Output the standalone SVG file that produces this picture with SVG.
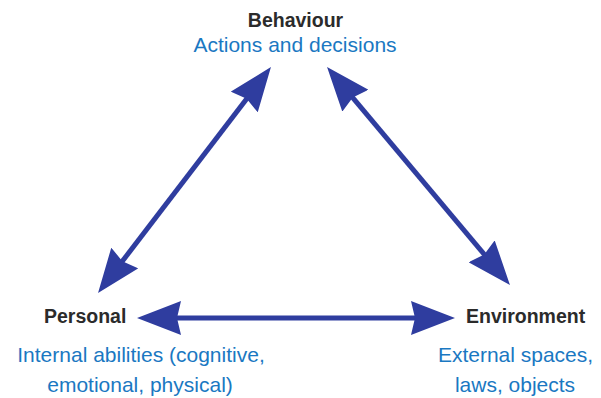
<svg xmlns="http://www.w3.org/2000/svg" width="601" height="398" viewBox="0 0 601 398">
  <style>
    .title { font-family: "Liberation Sans", Arial, sans-serif; font-weight: bold; font-size: 19.5px; fill: #2b2b2b; }
    .desc { font-family: "Liberation Sans", Arial, sans-serif; font-size: 21px; fill: #1a78c2; }
    .link { stroke: #2f3d9f; stroke-width: 5; fill: none; marker-start: url(#head); marker-end: url(#head); }
  </style>
  <defs>
    <marker id="head" markerUnits="userSpaceOnUse" viewBox="0 0 44 34" markerWidth="44" markerHeight="34" refX="24" refY="17" orient="auto-start-reverse">
      <path d="M0,0 L44,17 L0,34 L4,17 Z" fill="#2f3d9f"/>
    </marker>
  </defs>
  <rect width="601" height="398" fill="#ffffff"/>
  <g id="connectors">
    <line class="link" x1="110.2" y1="277.1" x2="258.8" y2="82.9"/>
    <line class="link" x1="339.9" y1="82.3" x2="497.1" y2="269.7"/>
    <line class="link" x1="157" y1="318" x2="435" y2="318"/>
  </g>
  <g id="behaviour">
    <text class="title" x="295.5" y="27" text-anchor="middle">Behaviour</text>
    <text class="desc" x="295" y="52" text-anchor="middle">Actions and decisions</text>
  </g>
  <g id="personal">
    <text class="title" x="44" y="323">Personal</text>
    <text class="desc" x="141" y="362" text-anchor="middle">Internal abilities (cognitive,</text>
    <text class="desc" x="140" y="392" text-anchor="middle">emotional, physical)</text>
  </g>
  <g id="environment">
    <text class="title" x="466" y="323">Environment</text>
    <text class="desc" x="515.5" y="362" text-anchor="middle">External spaces,</text>
    <text class="desc" x="515" y="392" text-anchor="middle">laws, objects</text>
  </g>
</svg>
